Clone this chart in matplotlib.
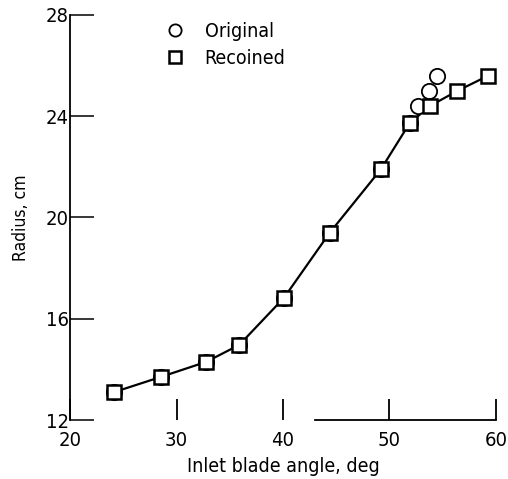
import matplotlib
matplotlib.use("Agg")
import matplotlib.pyplot as plt

# data
angle_common = [24.1, 28.5, 32.8, 35.9, 40.1, 44.4, 49.2, 51.9]
radius_common = [13.1, 13.7, 14.3, 14.97, 16.83, 19.4, 21.9, 23.72]

angle_recoined = angle_common + [53.8, 56.4, 59.3]
radius_recoined = radius_common + [24.4, 25.0, 25.6]

angle_original = angle_common + [52.7, 53.7, 54.5]
radius_original = radius_common + [24.4, 25.0, 25.6]

x_ticks = [20, 30, 40, 50, 60]
y_ticks = [12, 16, 20, 24, 28]

plt.rcParams["font.family"] = ["DejaVu Sans"]
plt.rcParams["font.stretch"] = "condensed"

fig = plt.figure(figsize=(5.08, 4.79), dpi=100)
ax = fig.add_axes([0.138, 0.123, 0.838, 0.846])

ax.plot(angle_recoined, radius_recoined, color="black", linewidth=1.6, zorder=2)

ax.plot(angle_original, radius_original, linestyle="none", marker="o",
        markersize=11, markerfacecolor="white", markeredgecolor="black",
        markeredgewidth=1.3, zorder=3, label="Original")
ax.plot(angle_recoined, radius_recoined, linestyle="none", marker="s",
        markersize=10, markerfacecolor="white", markeredgecolor="black",
        markeredgewidth=1.8, zorder=4, label="Recoined")

ax.set_xlim(20, 60)
ax.set_ylim(12, 28)
ax.set_xticks(x_ticks)
ax.set_yticks(y_ticks)

for side in ["top", "right"]:
    ax.spines[side].set_visible(False)
ax.spines["left"].set_linewidth(1.3)
ax.spines["bottom"].set_linewidth(1.3)
# the scanned baseline is only visible on its right part
ax.spines["bottom"].set_bounds(43, 60)

ax.tick_params(axis="y", direction="in", length=17, width=1.1, pad=1,
               labelsize=14.5)
ax.tick_params(axis="x", direction="in", length=15, width=1.3, pad=8,
               labelsize=14.5)

ax.set_xlabel("Inlet blade angle, deg", fontsize=14, labelpad=5)
ax.set_ylabel("Radius, cm", fontsize=12.6, labelpad=11)

ax.legend(loc="upper left", bbox_to_anchor=(0.197, 1.011), frameon=False,
          fontsize=14, handletextpad=1.0, labelspacing=0.41,
          handlelength=1.0, borderaxespad=0.2, markerscale=0.8)

fig.savefig("out.png", dpi=100)
